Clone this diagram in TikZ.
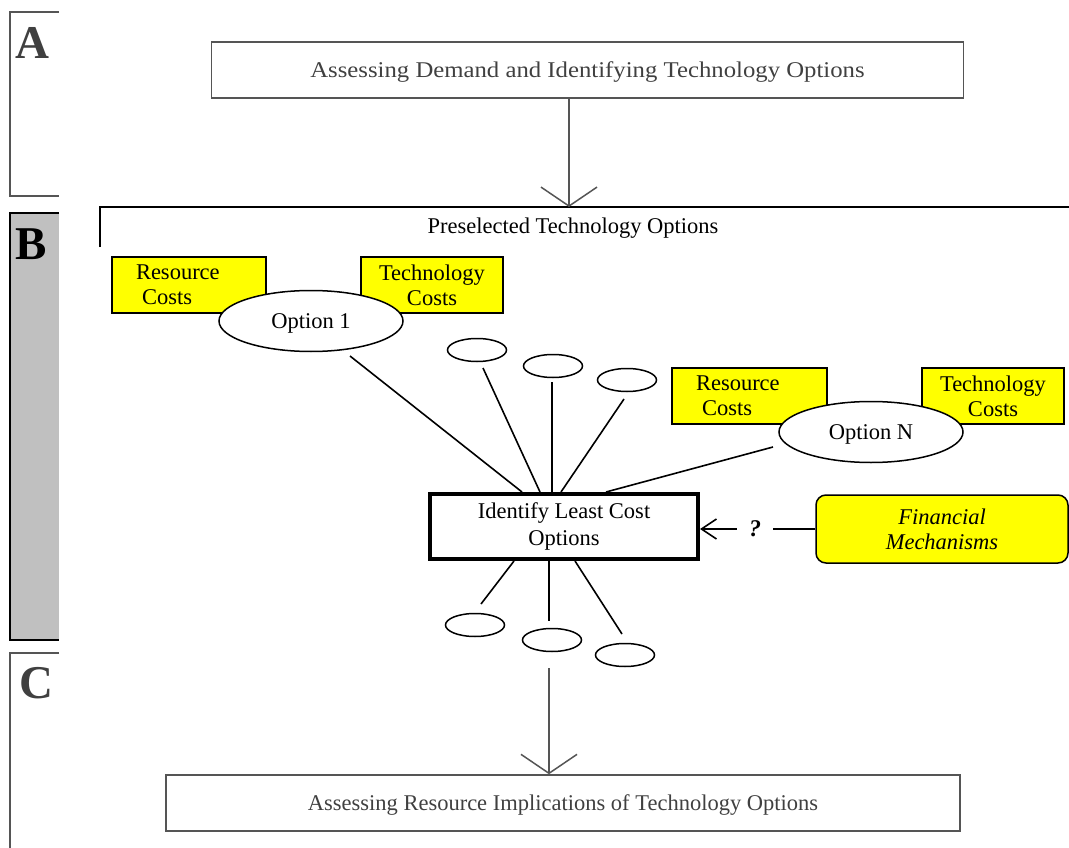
\documentclass[tikz,border=0pt]{standalone}
\usepackage{fontspec}
\setmainfont{Liberation Serif}
\usepackage{graphicx}
\usetikzlibrary{shapes.geometric,arrows.meta,calc}
\definecolor{panelgray}{HTML}{C0C0C0}
\definecolor{ink}{HTML}{404040}
\definecolor{frame}{HTML}{555555}
\definecolor{hl}{HTML}{FFFF00}

\begin{document}
\begin{tikzpicture}[x=1pt,y=-1pt,
  txt/.style={font=\fontsize{22.5}{25}\selectfont},
  stagebox/.style={draw=frame, line width=1.5pt, minimum width=#1, minimum height=56pt, inner sep=0pt, text=ink, text depth=0pt, txt},
  costbox/.style={draw=black, fill=hl, line width=1.5pt, minimum height=56pt, txt},
  option/.style={ellipse, draw=black, fill=white, line width=1.5pt, minimum width=184pt, minimum height=61pt, inner sep=0pt, text depth=0pt, txt},
  blank/.style={ellipse, draw=black, fill=white, line width=1.5pt, minimum width=59pt, minimum height=23pt, inner sep=0pt},
  spoke/.style={draw=black, line width=1.6pt},
  letter/.style={font=\fontsize{47}{47}\selectfont\bfseries, inner sep=0pt},
  bigarrow/.style={draw=frame, line width=1.5pt, -{Straight Barb[length=19pt,width=56pt]}},
]
\clip (0,0) rectangle (1069,848);

% stage panels on the left edge
\draw[frame, line width=1.5pt] (59,12) -- (10,12) -- (10,196) -- (59,196);
\node[letter, text=ink] (labA) at (32.5,42.5) {A};
\fill[panelgray] (10,213) rectangle (59,640);
\draw[black, line width=1.5pt] (59,213) -- (10,213) -- (10,640) -- (59,640);
\node[letter] (labB) at (31.5,244) {B};
\draw[frame, line width=1.5pt] (59,653) -- (10,653) -- (10,860);
\node[letter, text=ink] (labC) at (36.5,683) {C};

% stage A
\node[stagebox=752pt] (assess) at (587.5,70)
  {\scalebox{1.1}[1]{Assessing Demand and Identifying Technology Options}};

% preselected options bracket
\coordinate (preTip) at (569,207);
\draw[black, line width=1.5pt] (100,247) -- (100,207) -- (1075,207);
\node[txt, inner sep=0pt, text depth=0pt] (presel) at (573,226) {Preselected Technology Options};
\draw[bigarrow] (assess.south -| preTip) -- (preTip);

% option 1 with its costs
\node[costbox, text width=106pt, inner xsep=24pt, align=left] (res1) at (189,285) {Resource\\\hspace*{6pt}Costs};
\node[costbox, minimum width=142pt, align=center] (tech1) at (432,285) {Technology\\Costs};
\node[option] (opt1) at (311,321) {Option 1};

% option N with its costs
\node[costbox, text width=107pt, inner xsep=24pt, align=left] (resN) at (749.5,396) {Resource\\\hspace*{6pt}Costs};
\node[costbox, minimum width=142pt, align=center] (techN) at (993,396) {Technology\\Costs};
\node[option] (optN) at (871,432) {Option N};

% central decision box
\node[draw=black, line width=4pt, minimum width=268pt, minimum height=65pt, inner sep=0pt,
      align=center, font=\fontsize{22.5}{27}\selectfont] (least) at (564,526.5)
  {Identify Least Cost\\Options};

% unnamed options
\node[blank] (u1) at (477,350) {};
\node[blank] (u2) at (553,366) {};
\node[blank] (u3) at (627,380) {};
\node[blank] (d1) at (475,625) {};
\node[blank] (d2) at (552,640) {};
\node[blank] (d3) at (625,655) {};

% spokes into the decision box
\draw[spoke] ([shift={(39,35)}]opt1.center) -- ([xshift=-42pt]least.north);
\draw[spoke] ([shift={(6,18)}]u1.center) -- ([xshift=-24pt]least.north);
\draw[spoke] ([shift={(-1,16)}]u2.center) -- ([xshift=-12pt]least.north);
\draw[spoke] ([shift={(-3,19)}]u3.center) -- ([xshift=-3pt]least.north);
\draw[spoke] ([shift={(-98,15)}]optN.center) -- ([xshift=42pt]least.north);
\draw[spoke] ([xshift=-50pt]least.south) -- ([shift={(6,-21)}]d1.center);
\draw[spoke] ([xshift=-15pt]least.south) -- ([shift={(-3,-19)}]d2.center);
\draw[spoke] ([xshift=11pt]least.south) -- ([shift={(-3,-21)}]d3.center);

% financial mechanisms
\node[draw=black, fill=hl, line width=1.5pt, rounded corners=10pt, minimum width=252pt,
      minimum height=68pt, align=center, font=\fontsize{22.5}{25}\selectfont\itshape] (fin) at (942,529)
  {Financial\\Mechanisms};
\node[font=\fontsize{24}{24}\selectfont\bfseries\itshape, inner xsep=12pt, inner ysep=0pt] (q) at (755,529) {?};
\draw[black, line width=1.6pt] (fin.west) -- (q.east);
\draw[black, line width=1.6pt, -{Straight Barb[length=15pt,width=20pt]}] (q.west) -- (q.west -| least.east);

% stage C
\coordinate (downStart) at ([shift={(-3,28)}]d2.center);
\node[stagebox=794pt] (implic) at (563,803) {Assessing Resource Implications of Technology Options};
\draw[bigarrow] (downStart) -- (implic.north -| downStart);
\end{tikzpicture}
\end{document}
